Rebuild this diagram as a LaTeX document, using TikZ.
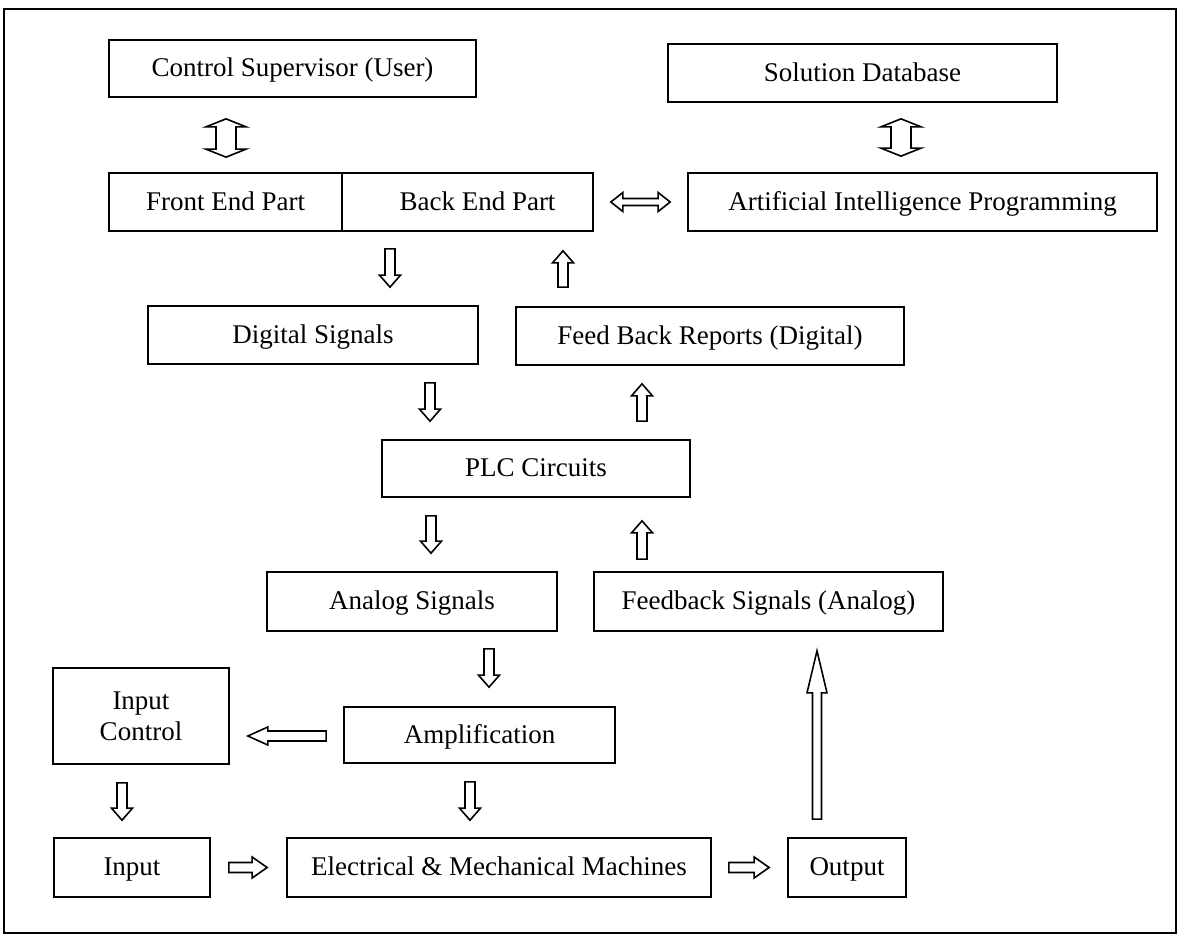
\documentclass[tikz,border=0pt]{standalone}
\usepackage{fontspec}
\setmainfont{Liberation Serif}
\usetikzlibrary{calc}

\newcommand{\arrsw}{5pt}
\newcommand{\arrhw}{10.5pt}
% hollow block arrow: [head length]{tail}{tip}
\newcommand{\blockarr}[3][12pt]{%
  \coordinate (ba-t) at #2;
  \coordinate (ba-h) at #3;
  \coordinate (ba-b) at ($(ba-h)!#1!(ba-t)$);
  \draw[arrline] ($(ba-t)!\arrsw!90:(ba-h)$) -- ($(ba-b)!\arrsw!90:(ba-h)$) -- ($(ba-b)!\arrhw!90:(ba-h)$) -- (ba-h)
    -- ($(ba-b)!\arrhw!-90:(ba-h)$) -- ($(ba-b)!\arrsw!-90:(ba-h)$) -- ($(ba-t)!\arrsw!-90:(ba-h)$) -- cycle;}
% hollow double arrow: {head length}{shaft half}{head half}{end}{end}
\newcommand{\dblarr}[5]{%
  \coordinate (da-a) at #4;
  \coordinate (da-b) at #5;
  \coordinate (da-p) at ($(da-a)!#1!(da-b)$);
  \coordinate (da-q) at ($(da-b)!#1!(da-a)$);
  \draw[arrline] (da-a) -- ($(da-p)!#3!90:(da-b)$) -- ($(da-p)!#2!90:(da-b)$) -- ($(da-q)!#2!-90:(da-a)$)
    -- ($(da-q)!#3!-90:(da-a)$) -- (da-b) -- ($(da-q)!#3!90:(da-a)$) -- ($(da-q)!#2!90:(da-a)$)
    -- ($(da-p)!#2!-90:(da-b)$) -- ($(da-p)!#3!-90:(da-b)$) -- cycle;}

\begin{document}
\begin{tikzpicture}[x=1pt,y=-1pt,
  blk/.style={draw,line width=1.7pt,inner sep=0pt,align=center,font=\fontsize{27}{31}\selectfont,
    text height=21pt,text depth=5pt},
  arrline/.style={line width=1.6pt,line join=miter,fill=white}]
  \useasboundingbox (0,0) rectangle (1179,935);
  \draw[line width=1.2pt] (4,9) rectangle (1176,933);
  % boxes
  \node[blk,minimum width=367pt,minimum height=57pt] (sup) at (292.5,68.5) {Control Supervisor (User)};
  \node[blk,minimum width=389pt,minimum height=58pt] (sdb) at (862.5,73) {Solution Database};
  \node[blk,minimum width=233pt,minimum height=58pt] (front) at (225.5,202) {Front End Part};
  \node[blk,minimum width=251pt,minimum height=58pt] (back) at (467.5,202) {\hspace{20pt}Back End Part};
  \node[blk,minimum width=469pt,minimum height=58pt] (ai) at (922.5,202) {Artificial Intelligence Programming};
  \node[blk,minimum width=330pt,minimum height=58pt] (dig) at (313,335) {Digital Signals};
  \node[blk,minimum width=388pt,minimum height=58pt] (fbr) at (710,336) {Feed Back Reports (Digital)};
  \node[blk,minimum width=308pt,minimum height=57pt] (plc) at (536,468.5) {PLC Circuits};
  \node[blk,minimum width=290pt,minimum height=59pt] (ana) at (412,601.5) {Analog Signals};
  \node[blk,minimum width=349pt,minimum height=59pt] (fbs) at (768.5,601.5) {Feedback Signals (Analog)};
  \node[blk,text height=,text depth=,minimum width=176pt,minimum height=96pt] (inc) at (141,716) {Input\\Control};
  \node[blk,minimum width=271pt,minimum height=56pt] (amp) at (479.5,735) {Amplification};
  \node[blk,minimum width=156pt,minimum height=59pt] (inp) at (132,867.5) {Input};
  \node[blk,minimum width=424pt,minimum height=59pt] (emm) at (499,867.5) {Electrical \& Mechanical Machines};
  \node[blk,minimum width=118pt,minimum height=59pt] (out) at (847,867.5) {Output};
  % two-way arrows
  \dblarr{8pt}{10pt}{20pt}{($(sup.south)+(-66.5,21)$)}{($(front.north)+(0.5,-15)$)}
  \dblarr{8pt}{10pt}{20pt}{($(sdb.south)+(38.5,16)$)}{($(ai.north)+(-21.5,-16)$)}
  \dblarr{12pt}{3.5pt}{9.5pt}{($(back.east)+(17,0)$)}{($(ai.west)+(-17,0)$)}
  % one-way arrows
  \blockarr{($(back.south)+(-77.5,17)$)}{($(dig.north)+(77,-18)$)}
  \blockarr{($(fbr.north)+(-147,-19)$)}{($(back.south)+(95.5,19)$)}
  \blockarr{($(dig.south)+(117,18)$)}{($(plc.north)+(-106,-18)$)}
  \blockarr{($(plc.north)+(106,-18)$)}{($(fbr.south)+(-68,18)$)}
  \blockarr{($(plc.south)+(-105,18)$)}{($(ana.north)+(19,-18)$)}
  \blockarr{($(fbs.north)+(-126.5,-12)$)}{($(plc.south)+(106,23)$)}
  \blockarr{($(ana.south)+(77,17)$)}{($(amp.north)+(9.5,-19)$)}
  {\renewcommand{\arrhw}{9pt}\blockarr[20pt]{($(amp.west)+(-17,1)$)}{($(inc.east)+(18,20)$)}}
  \blockarr{($(inc.south)+(-19,18)$)}{($(inp.north)+(-10,-17)$)}
  \blockarr{($(amp.south)+(-9.5,18)$)}{($(emm.north)+(-29,-17)$)}
  \blockarr[15pt]{($(inp.east)+(18,0)$)}{($(emm.west)+(-19,0)$)}
  \blockarr[15pt]{($(emm.east)+(17,0)$)}{($(out.west)+(-18,0)$)}
  {\renewcommand{\arrsw}{4.5pt}\renewcommand{\arrhw}{10pt}\blockarr[42pt]{($(out.north)+(-30,-18)$)}{($(fbs.south)+(48.5,19)$)}}
\end{tikzpicture}
\end{document}
